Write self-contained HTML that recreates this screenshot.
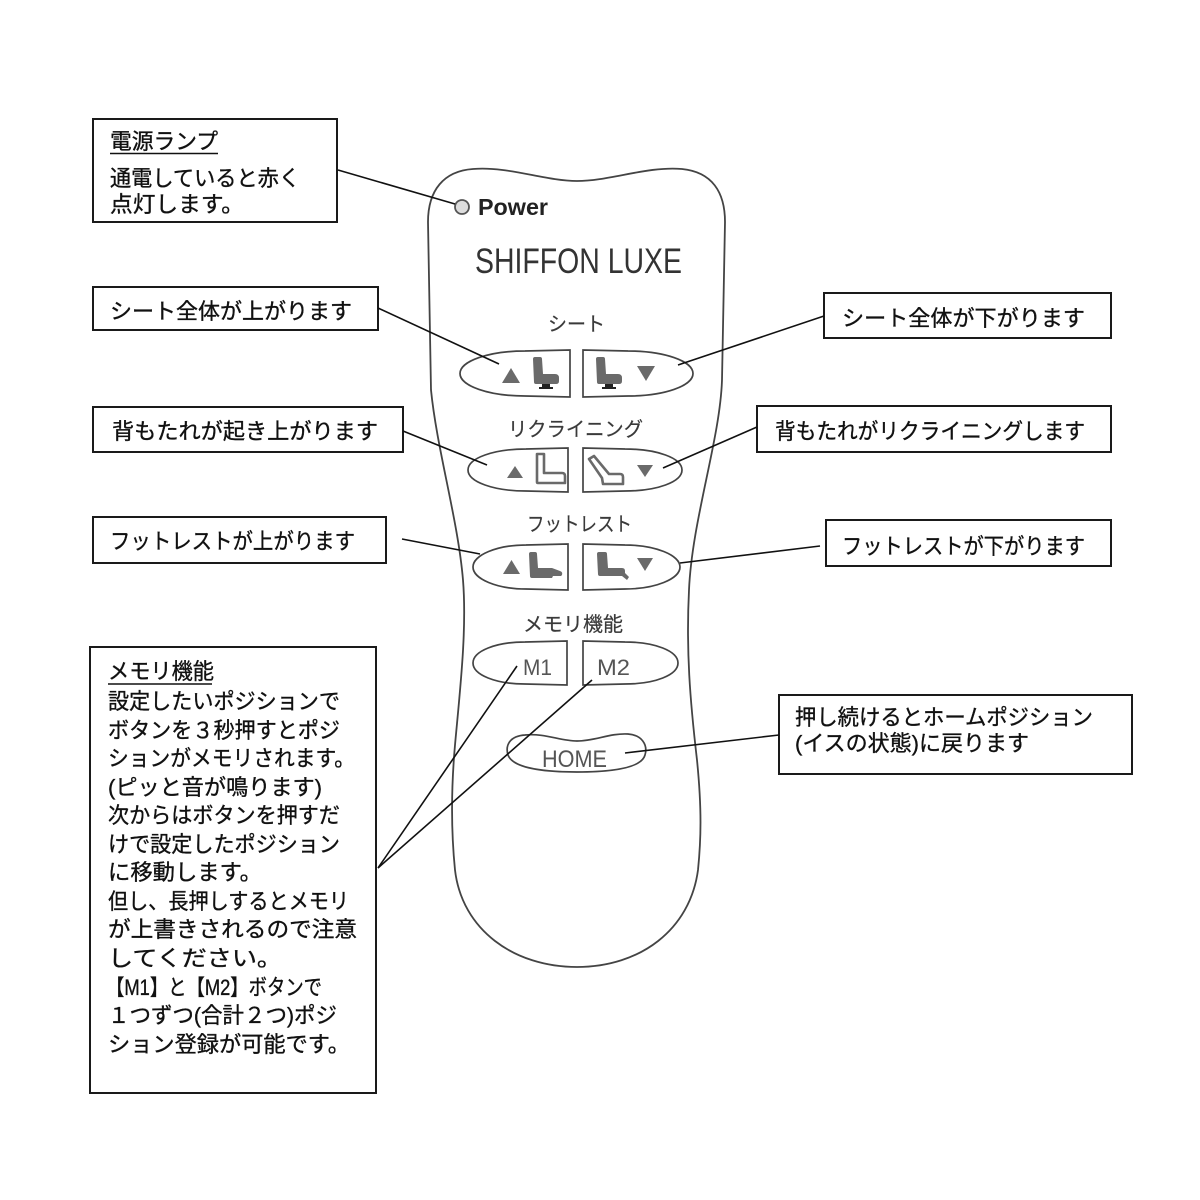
<!DOCTYPE html>
<html><head><meta charset="utf-8">
<style>
html,body{margin:0;padding:0;background:#fff;}
svg{display:block;}
.jp{font-family:"Liberation Sans","Noto Sans CJK JP",sans-serif;}
</style></head>
<body>
<svg width="1200" height="1200" viewBox="0 0 1200 1200" xmlns="http://www.w3.org/2000/svg">
<rect width="1200" height="1200" fill="#fff"/>

<!-- Remote outline -->
<path d="M473,169 C508,166 545,181 577,181 C610,181 647,166 682,169 C712,172 725,192 725,222 L722,380 C720,440 692,520 689,590 C686,650 690,700 697,760 C702,810 701,840 698,870 C690,930 640,967 577,967 C514,967 462,930 455,870 C451,830 451,790 455,745 C460,690 467,630 463,580 C458,520 437,450 431,390 L428,222 C428,190 444,171 473,169 Z" fill="#fff" stroke="#444" stroke-width="1.8"/>

<!-- Power -->
<circle cx="462" cy="207" r="7" fill="#ddd" stroke="#555" stroke-width="1.8"/>
<text x="478" y="215" font-family="Liberation Sans, sans-serif" font-weight="bold" font-size="23" fill="#222" textLength="70" lengthAdjust="spacingAndGlyphs">Power</text>

<text x="475" y="273" font-family="Liberation Sans, sans-serif" font-size="35" fill="#333" textLength="207" lengthAdjust="spacingAndGlyphs">SHIFFON LUXE</text>

<!-- Section labels -->
<g class="jp" font-size="20" fill="#3a3a3a" stroke="#3a3a3a" stroke-width="0.2">
<text x="548" y="331" textLength="57" lengthAdjust="spacingAndGlyphs">シート</text>
<text x="508" y="436" textLength="135" lengthAdjust="spacingAndGlyphs">リクライニング</text>
<text x="527" y="531" textLength="105" lengthAdjust="spacingAndGlyphs">フットレスト</text>
<text x="523" y="631" textLength="100" lengthAdjust="spacingAndGlyphs">メモリ機能</text>
</g>

<!-- Buttons -->
<g fill="#fff" stroke="#444" stroke-width="1.7">
<path d="M570,350 L525,351 C489,351 460,361 460,373.5 C460,386 489,396 525,396 L570,397 Z"/>
<path d="M583,350 L628,351 C664,351 693,361 693,373.5 C693,386 664,396 628,396 L583,397 Z"/>
<path d="M568,448 L526,449 C494,449 468,458 468,470 C468,482 494,491 526,491 L568,492 Z"/>
<path d="M583,448 L625,449 C657,449 682,458 682,470 C682,482 657,491 625,491 L583,492 Z"/>
<path d="M568,544 L526,545 C497,545 473,555 473,567 C473,579 497,589 526,589 L568,590 Z"/>
<path d="M583,544 L625,545 C655,545 680,555 680,567 C680,579 655,589 625,589 L583,590 Z"/>
<path d="M567,641 L525,642 C496,642 473,651 473,663 C473,675 496,684 525,684 L567,685 Z"/>
<path d="M583,641 L625,642 C655,642 678,651 678,663 C678,675 655,684 625,684 L583,685 Z"/>
<path d="M525,735 C545,733 560,741 577,741 C595,741 610,733 628,734 C642,735 648,745 645,755 C642,766 620,772 577,772 C535,772 512,766 508,755 C505,745 510,736 525,735 Z"/>
</g>

<g font-family="Liberation Sans, sans-serif" font-size="22" fill="#555">
<text x="523" y="675" textLength="29" lengthAdjust="spacingAndGlyphs">M1</text>
<text x="597" y="675" textLength="33" lengthAdjust="spacingAndGlyphs">M2</text>
<text x="542" y="767" font-size="24" textLength="65" lengthAdjust="spacingAndGlyphs">HOME</text>
</g>

<!-- Icons -->
<g fill="#6a6a6a">
<polygon points="502,383 520,383 511,368"/>
<polygon points="637,366 655,366 646,381"/>
<polygon points="507,478 523,478 515,466"/>
<polygon points="637,465 653,465 645,477"/>
<polygon points="503,574 520,574 511.5,560"/>
<polygon points="637,558 653,558 645,571"/>
<g transform="translate(534,357)">
<path d="M1,0 h5 q2,0 2,2 l1,15 h12 q4,0 4,4 v3 q0,3 -3,3 h-20 q-2,0 -2,-2 l-1,-23 q0,-2 2,-2 z"/>
<rect x="8" y="27" width="8" height="3" fill="#222"/><rect x="5" y="30" width="14" height="2" fill="#222"/>
</g>
<g transform="translate(597,357)">
<path d="M1,0 h5 q2,0 2,2 l1,15 h12 q4,0 4,4 v3 q0,3 -3,3 h-20 q-2,0 -2,-2 l-1,-23 q0,-2 2,-2 z"/>
<rect x="8" y="27" width="8" height="3" fill="#222"/><rect x="5" y="30" width="14" height="2" fill="#222"/>
</g>
<g transform="translate(528,552)">
<path d="M1,0 h6 q2,0 2,2 l1,14 h14 l8,3 q3,1 2,4 l-1,1 h-8 l-1,2 h-20 q-2,0 -2,-2 l-1,-22 q0,-2 2,-2 z"/>
</g>
<g transform="translate(598,552)">
<path d="M1,0 h6 q2,0 2,2 l1,14 h14 q3,0 3,3 v2 l4,4 l-2,3 l-5,-4 h-22 q-2,0 -2,-2 l-1,-20 q0,-2 2,-2 z"/>
</g>
</g>
<g fill="none" stroke="#6a6a6a" stroke-width="2.6" stroke-linejoin="round">
<path transform="translate(536,454)" d="M1,0 h7 v19 h18 q3,0 3,3 v7 h-27 q-1,0 -1,-1 z"/>
<path transform="translate(589,456)" d="M0,3 l5,-3 l15,18 h11 q3,0 3,3 v7 h-20 l-1,-6 z"/>
</g>

<!-- Annotation boxes -->
<g fill="#fff" stroke="#1a1a1a" stroke-width="2">
<rect x="93" y="119" width="244" height="103"/>
<rect x="93" y="287" width="285" height="43"/>
<rect x="93" y="407" width="310" height="45"/>
<rect x="93" y="517" width="293" height="46"/>
<rect x="824" y="293" width="287" height="45"/>
<rect x="757" y="406" width="354" height="46"/>
<rect x="826" y="520" width="285" height="46"/>
<rect x="779" y="695" width="353" height="79"/>
<rect x="90" y="647" width="286" height="446"/>
</g>

<!-- Connectors -->
<g stroke="#111" stroke-width="1.6" fill="none">
<line x1="338" y1="170" x2="455" y2="204"/>
<line x1="378" y1="308" x2="499" y2="364"/>
<line x1="824" y1="316" x2="678" y2="365"/>
<line x1="403" y1="431" x2="487" y2="465"/>
<line x1="757" y1="427" x2="663" y2="468"/>
<line x1="402" y1="539" x2="480" y2="554"/>
<line x1="820" y1="546" x2="680" y2="563"/>
<line x1="378" y1="868" x2="517" y2="666"/>
<line x1="378" y1="868" x2="592" y2="680"/>
<line x1="779" y1="735" x2="625" y2="753"/>
</g>

<!-- Box text -->
<g class="jp" fill="#111" stroke="#111" stroke-width="0.35" font-size="22">
<text x="110" y="149" textLength="108" lengthAdjust="spacingAndGlyphs">電源ランプ</text>
<text x="110" y="186" textLength="190" lengthAdjust="spacingAndGlyphs">通電していると赤く</text>
<text x="110" y="212" textLength="134" lengthAdjust="spacingAndGlyphs">点灯します。</text>

<text x="110" y="319" textLength="242" lengthAdjust="spacingAndGlyphs">シート全体が上がります</text>
<text x="112" y="439" textLength="266" lengthAdjust="spacingAndGlyphs">背もたれが起き上がります</text>
<text x="110" y="549" textLength="245" lengthAdjust="spacingAndGlyphs">フットレストが上がります</text>
<text x="842" y="326" textLength="243" lengthAdjust="spacingAndGlyphs">シート全体が下がります</text>
<text x="775" y="439" textLength="310" lengthAdjust="spacingAndGlyphs">背もたれがリクライニングします</text>
<text x="842" y="554" textLength="243" lengthAdjust="spacingAndGlyphs">フットレストが下がります</text>
<text x="795" y="725" textLength="298" lengthAdjust="spacingAndGlyphs">押し続けるとホームポジション</text>
<text x="795" y="751" textLength="234" lengthAdjust="spacingAndGlyphs">(イスの状態)に戻ります</text>

<text x="108" y="679" textLength="106" lengthAdjust="spacingAndGlyphs">メモリ機能</text>
<text x="108" y="709" textLength="232" lengthAdjust="spacingAndGlyphs">設定したいポジションで</text>
<text x="108" y="738" textLength="232" lengthAdjust="spacingAndGlyphs">ボタンを３秒押すとポジ</text>
<text x="108" y="766" textLength="247" lengthAdjust="spacingAndGlyphs">ションがメモリされます。</text>
<text x="108" y="795" textLength="214" lengthAdjust="spacingAndGlyphs">(ピッと音が鳴ります)</text>
<text x="108" y="823" textLength="232" lengthAdjust="spacingAndGlyphs">次からはボタンを押すだ</text>
<text x="108" y="852" textLength="232" lengthAdjust="spacingAndGlyphs">けで設定したポジション</text>
<text x="108" y="880" textLength="154" lengthAdjust="spacingAndGlyphs">に移動します。</text>
<text x="108" y="909" textLength="241" lengthAdjust="spacingAndGlyphs">但し、長押しするとメモリ</text>
<text x="108" y="937" textLength="249" lengthAdjust="spacingAndGlyphs">が上書きされるので注意</text>
<text x="108" y="966" textLength="174" lengthAdjust="spacingAndGlyphs">してください。</text>
<text x="106" y="995" textLength="216" lengthAdjust="spacingAndGlyphs">【M1】と【M2】ボタンで</text>
<text x="108" y="1023" textLength="229" lengthAdjust="spacingAndGlyphs">１つずつ(合計２つ)ポジ</text>
<text x="108" y="1052" textLength="242" lengthAdjust="spacingAndGlyphs">ション登録が可能です。</text>
</g>
<g stroke="#111" stroke-width="1.5">
<line x1="110" y1="153.5" x2="218" y2="153.5"/>
<line x1="108" y1="684" x2="212" y2="684"/>
</g>
</svg>
</body></html>
